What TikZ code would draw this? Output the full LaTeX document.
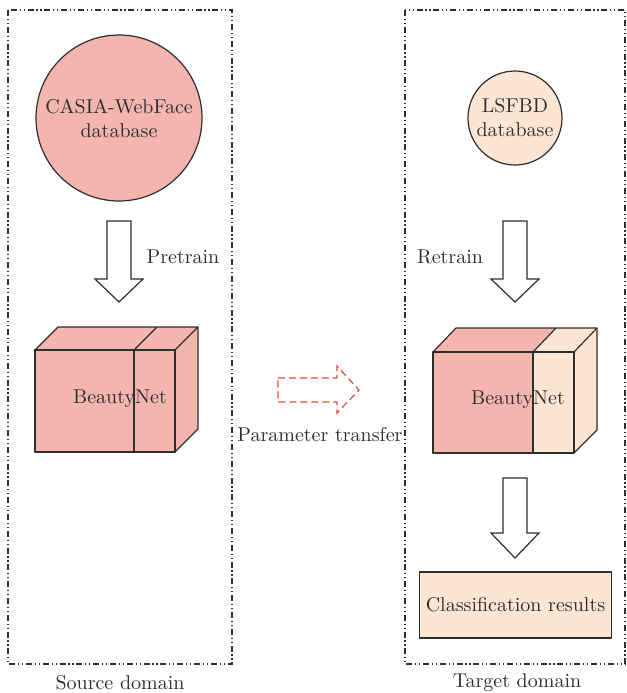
\documentclass[tikz,border=0pt]{standalone}
\usepackage{amsmath,amssymb}
\usepackage{tikz}
\usetikzlibrary{arrows.meta}
\definecolor{pinkfill}{HTML}{F4B5AF}
\definecolor{peachfill}{HTML}{FDE5D4}
\definecolor{darkline}{HTML}{2E2E2E}
\definecolor{transred}{HTML}{EB4A33}
\tikzset{
frame/.style={draw=darkline, line width=0.6pt, dash pattern=on 3pt off 1.4pt on 0.6pt off 1.4pt on 0.6pt off 1.4pt},
face/.style={draw=darkline, line width=0.6pt, line join=round},
hollow/.style={draw=darkline, line width=0.6pt, fill=white, line join=miter},
txt/.style={text=darkline, font=\normalsize}}
\begin{document}
\begin{tikzpicture}[x=0.5pt, y=-0.5pt]
    \useasboundingbox (0,0) rectangle (627,693);

                % domains
                \draw[frame] (8,10) rectangle (232,664);
                \draw[frame] (405,10) rectangle (625,664);
                \node[txt] (S) at (120,683) {Source domain};
                \node[txt] (T) at (517,683) {Target domain};

                % databases
                \node[shape=circle, face, fill=pinkfill, minimum size=83pt, inner sep=0pt, align=center, txt] (A) at (119,118) {CASIA-WebFace\\database};
                \node[shape=circle, face, fill=peachfill, minimum size=47pt, inner sep=0pt, align=center, txt] (B) at (515,118) {LSFBD\\database};

                % pretrain / retrain
                \draw[hollow] (107,221) -- (131,221) -- (131,279) -- (143,279) -- (119,302) -- (95,279) -- (107,279) -- cycle;
                \node[txt] (P) at (183,257) {Pretrain};
                \draw[hollow] (503,221) -- (527,221) -- (527,279) -- (539,279) -- (515,302) -- (491,279) -- (503,279) -- cycle;
                \node[txt] (R) at (450,257) {Retrain};

                % source net
                \fill[pinkfill] (35,350) -- (58,327) -- (198,327) -- (198,429) -- (175,452) -- (35,452) -- cycle;
                \draw[face] (35,350) rectangle (175,452);
                \draw[face] (35,350) -- (58,327) -- (198,327) -- (175,350);
                \draw[face] (198,327) -- (198,429) -- (175,452);
                \draw[face] (134,350) -- (157,327);
                \draw[face] (134,350) -- (134,452);
                \node[txt] (N1) at (120,399) {BeautyNet};

                % target net
                \fill[pinkfill] (433,352) -- (456,328) -- (556,328) -- (533,352) -- (533,453) -- (433,453) -- cycle;
                \fill[peachfill] (533,352) -- (556,328) -- (597,328) -- (597,430) -- (574,453) -- (533,453) -- cycle;
                \draw[face] (433,352) rectangle (574,453);
                \draw[face] (433,352) -- (456,328) -- (597,328) -- (574,352);
                \draw[face] (597,328) -- (597,430) -- (574,453);
                \draw[face] (533,352) -- (556,328);
                \draw[face] (533,352) -- (533,453);
                \node[txt] (N2) at (518,400) {BeautyNet};

                % transfer
                \draw[transred, line width=0.6pt, dash pattern=on 3.5pt off 2pt] (278,378) -- (337,378) -- (337,366) -- (359,390) -- (337,413) -- (337,402) -- (278,402) -- cycle;
                \node[txt] (M) at (320,435) {Parameter transfer};

                % results
                \draw[hollow] (503,478) -- (527,478) -- (527,533) -- (539,533) -- (515,558) -- (491,533) -- (503,533) -- cycle;
                \node[shape=rectangle, face, fill=peachfill, minimum width=93.5pt, minimum height=33pt, txt] (C) at (515.5,605) {Classification results};

            \end{tikzpicture}
\end{document}
